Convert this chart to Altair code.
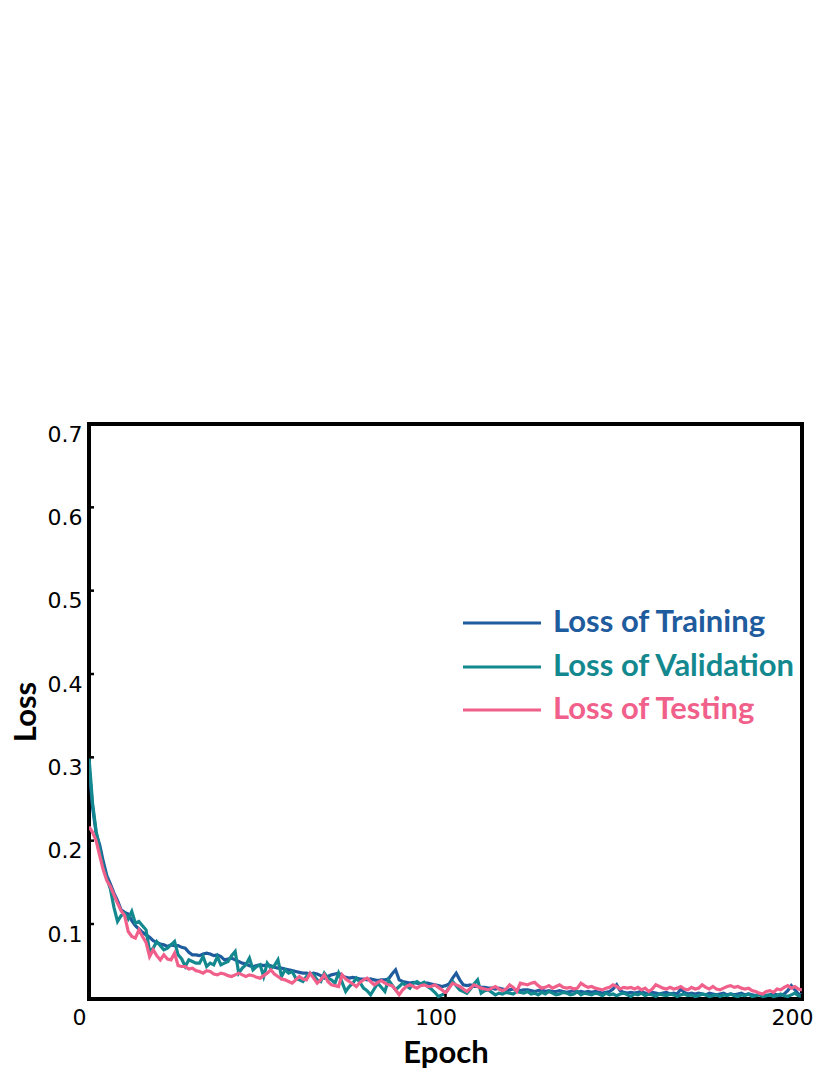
import altair as alt
import pandas as pd

# ---- data ----
epochs = list(range(0, 201))

loss_training = [
    0.290, 0.240, 0.209, 0.195, 0.175, 0.158, 0.148, 0.137, 0.128, 0.117,
    0.114, 0.112, 0.104, 0.098, 0.094, 0.090, 0.087, 0.084, 0.080, 0.078,
    0.076, 0.075, 0.073, 0.075, 0.074, 0.074, 0.072, 0.071, 0.066, 0.063,
    0.063, 0.062, 0.064, 0.065, 0.064, 0.062, 0.063, 0.061, 0.057, 0.058,
    0.059, 0.057, 0.055, 0.053, 0.052, 0.050, 0.049, 0.050, 0.051, 0.050,
    0.051, 0.050, 0.048, 0.047, 0.047, 0.046, 0.045, 0.044, 0.043, 0.042,
    0.041, 0.041, 0.040, 0.041, 0.040, 0.038, 0.035, 0.037, 0.039, 0.040,
    0.041, 0.038, 0.036, 0.035, 0.036, 0.035, 0.034, 0.034, 0.033, 0.034,
    0.033, 0.032, 0.033, 0.033, 0.034, 0.040, 0.045, 0.033, 0.031, 0.030,
    0.029, 0.030, 0.029, 0.028, 0.029, 0.029, 0.028, 0.027, 0.026, 0.025,
    0.026, 0.028, 0.035, 0.041, 0.033, 0.027, 0.026, 0.027, 0.025, 0.025,
    0.024, 0.024, 0.023, 0.023, 0.022, 0.023, 0.022, 0.021, 0.021, 0.022,
    0.021, 0.020, 0.021, 0.021, 0.020, 0.019, 0.020, 0.021, 0.019, 0.020,
    0.019, 0.019, 0.020, 0.019, 0.018, 0.019, 0.020, 0.018, 0.019, 0.018,
    0.019, 0.018, 0.019, 0.018, 0.017, 0.018, 0.019, 0.022, 0.027, 0.020,
    0.018, 0.017, 0.018, 0.017, 0.018, 0.019, 0.017, 0.016, 0.018, 0.017,
    0.016, 0.017, 0.018, 0.016, 0.017, 0.016, 0.022, 0.018, 0.016, 0.017,
    0.016, 0.017, 0.016, 0.015, 0.017, 0.016, 0.015, 0.016, 0.017, 0.015,
    0.016, 0.015, 0.016, 0.017, 0.015, 0.016, 0.015, 0.014, 0.016, 0.015,
    0.014, 0.015, 0.016, 0.015, 0.014, 0.016, 0.020, 0.026, 0.021, 0.016,
    0.015,
]

loss_validation = [
    0.300, 0.245, 0.211, 0.190, 0.168, 0.155, 0.142, 0.120, 0.103, 0.110,
    0.113, 0.106, 0.115, 0.101, 0.103, 0.098, 0.093, 0.067, 0.071, 0.079,
    0.074, 0.069, 0.071, 0.075, 0.079, 0.063, 0.058, 0.049, 0.057, 0.055,
    0.053, 0.053, 0.061, 0.049, 0.053, 0.051, 0.061, 0.051, 0.053, 0.055,
    0.062, 0.067, 0.041, 0.047, 0.051, 0.059, 0.045, 0.049, 0.051, 0.037,
    0.053, 0.047, 0.050, 0.057, 0.037, 0.045, 0.041, 0.043, 0.035, 0.033,
    0.031, 0.037, 0.041, 0.039, 0.033, 0.031, 0.041, 0.035, 0.033, 0.029,
    0.041, 0.030, 0.019, 0.025, 0.029, 0.035, 0.030, 0.023, 0.020, 0.015,
    0.022, 0.029, 0.024, 0.019, 0.033, 0.027, 0.021, 0.025, 0.029, 0.026,
    0.023, 0.029, 0.031, 0.028, 0.030, 0.025, 0.022, 0.018, 0.013, 0.015,
    0.017, 0.024, 0.031, 0.026, 0.021, 0.019, 0.017, 0.022, 0.028, 0.033,
    0.017, 0.020, 0.021, 0.018, 0.015, 0.017, 0.016, 0.018, 0.017, 0.016,
    0.019, 0.018, 0.017, 0.019, 0.016, 0.017, 0.015, 0.018, 0.016, 0.019,
    0.017, 0.015, 0.016, 0.018, 0.017, 0.015, 0.016, 0.019, 0.015, 0.017,
    0.016, 0.015, 0.017, 0.016, 0.014, 0.017, 0.015, 0.016, 0.014, 0.016,
    0.017, 0.015, 0.013, 0.016, 0.015, 0.017, 0.014, 0.016, 0.015, 0.013,
    0.016, 0.015, 0.014, 0.016, 0.015, 0.013, 0.015, 0.016, 0.014, 0.015,
    0.013, 0.014, 0.016, 0.015, 0.013, 0.014, 0.015, 0.013, 0.015, 0.014,
    0.016, 0.014, 0.013, 0.015, 0.014, 0.016, 0.013, 0.014, 0.015, 0.013,
    0.014, 0.015, 0.013, 0.014, 0.016, 0.014, 0.013, 0.015, 0.017, 0.014,
    0.013,
]

loss_testing = [
    0.217, 0.210, 0.200, 0.182, 0.165, 0.152, 0.145, 0.135, 0.125, 0.116,
    0.110, 0.091, 0.085, 0.083, 0.093, 0.085, 0.078, 0.061, 0.069, 0.062,
    0.057, 0.063, 0.058, 0.057, 0.065, 0.050, 0.049, 0.049, 0.046, 0.047,
    0.044, 0.043, 0.041, 0.044, 0.043, 0.040, 0.039, 0.041, 0.040, 0.038,
    0.037, 0.039, 0.041, 0.039, 0.037, 0.039, 0.038, 0.036, 0.035, 0.038,
    0.041, 0.045, 0.040, 0.037, 0.034, 0.033, 0.031, 0.029, 0.033, 0.037,
    0.034, 0.033, 0.041, 0.035, 0.029, 0.033, 0.039, 0.031, 0.027, 0.026,
    0.025, 0.039, 0.034, 0.031, 0.028, 0.025, 0.030, 0.033, 0.035, 0.031,
    0.027, 0.030, 0.032, 0.029, 0.027, 0.026, 0.021, 0.015, 0.021, 0.025,
    0.027, 0.025, 0.023, 0.026, 0.027, 0.025, 0.025, 0.027, 0.024, 0.021,
    0.017, 0.023, 0.029, 0.027, 0.025, 0.022, 0.019, 0.023, 0.027, 0.025,
    0.023, 0.022, 0.021, 0.023, 0.025, 0.022, 0.020, 0.022, 0.027, 0.024,
    0.019, 0.029, 0.028, 0.027, 0.029, 0.030, 0.026, 0.023, 0.024, 0.026,
    0.023, 0.025, 0.027, 0.024, 0.023, 0.024, 0.022, 0.023, 0.029, 0.026,
    0.024, 0.025, 0.023, 0.022, 0.021, 0.023, 0.024, 0.027, 0.025, 0.022,
    0.024, 0.023, 0.024, 0.022, 0.024, 0.021, 0.023, 0.019, 0.022, 0.027,
    0.025, 0.023, 0.022, 0.024, 0.022, 0.023, 0.025, 0.022, 0.021, 0.024,
    0.022, 0.023, 0.027, 0.024, 0.022, 0.025, 0.022, 0.021, 0.023, 0.025,
    0.026, 0.024, 0.025, 0.023, 0.022, 0.023, 0.020, 0.019, 0.017, 0.016,
    0.019, 0.020, 0.018, 0.022, 0.021, 0.024, 0.026, 0.023, 0.025, 0.022,
    0.021,
]

series_names = ["Loss of Training", "Loss of Validation", "Loss of Testing"]
series_colors = ["#1f5c9e", "#13898f", "#f0608a"]
y_ticks = [0.1, 0.2, 0.3, 0.4, 0.5, 0.6, 0.7]
x_ticks = [0, 100, 200]

# ---- tables ----
rows = []
for name, vals in zip(series_names, [loss_training, loss_validation, loss_testing]):
    for e, v in zip(epochs, vals):
        rows.append({"Epoch": e, "Loss": v, "Series": name})
df = pd.DataFrame(rows)

W, H = 713, 575
LABEL_FONT = "DejaVu Sans"
TITLE_FONT = "Lato"

x_scale = alt.Scale(domain=[0, 200], nice=False, zero=False)
y_scale = alt.Scale(domain=[0.01, 0.7], nice=False, zero=False)
color_scale = alt.Scale(domain=series_names, range=series_colors)

lines = alt.Chart(df).mark_line(strokeWidth=3.2, clip=True).encode(
    x=alt.X("Epoch:Q", scale=x_scale,
            axis=alt.Axis(values=x_ticks, format="d", ticks=False, domain=False, grid=False,
                          labelFont=LABEL_FONT, labelFontSize=22, labelColor="black",
                          labelPadding=8, labelOffset=-10, labelFlush=False,
                          title="Epoch", titleFont=TITLE_FONT, titleFontSize=31,
                          titleFontWeight="bold", titleColor="black",
                          titleY=54, titleBaseline="middle")),
    y=alt.Y("Loss:Q", scale=y_scale,
            axis=alt.Axis(values=y_ticks, format=".1f", ticks=False, domain=False, grid=False,
                          labelFont=LABEL_FONT, labelFontSize=22, labelColor="black",
                          labelPadding=7, labelOffset=10, labelFlush=False,
                          title="Loss", titleFont=TITLE_FONT, titleFontSize=31,
                          titleFontWeight="bold", titleColor="black",
                          titleAngle=-90, titleX=-63, titleY=H / 2,
                          titleBaseline="middle", titleAlign="center")),
    color=alt.Color("Series:N", scale=color_scale, legend=None),
    detail="Series:N",
)

# small inward tick marks
ytick_df = pd.DataFrame({"Loss": y_ticks})
yticks = alt.Chart(ytick_df).mark_rule(color="black", strokeWidth=2.5).encode(
    y=alt.Y("Loss:Q", scale=y_scale), x=alt.value(0), x2=alt.value(5)
)
xtick_df = pd.DataFrame({"Epoch": x_ticks})
xticks = alt.Chart(xtick_df).mark_rule(color="black", strokeWidth=2.5).encode(
    x=alt.X("Epoch:Q", scale=x_scale), y=alt.value(H), y2=alt.value(H - 5)
)

# legend drawn inside the plot
legend_layers = []
legend_rows_y = [199, 243, 286]
for name, col, yy in zip(series_names, series_colors, legend_rows_y):
    ldf = pd.DataFrame({"Series": [name]})
    legend_layers.append(
        alt.Chart(ldf).mark_rule(color=col, strokeWidth=3).encode(
            x=alt.value(374), x2=alt.value(452), y=alt.value(yy)
        )
    )
    legend_layers.append(
        alt.Chart(ldf).mark_text(color=col, font=TITLE_FONT, fontSize=31, fontWeight="bold",
                                 align="left", baseline="middle").encode(
            x=alt.value(464), y=alt.value(yy), text="Series:N"
        )
    )

chart = alt.layer(lines, yticks, xticks, *legend_layers).properties(
    width=W, height=H,
    background="white",
    autosize=alt.AutoSizeParams(type="none"),
    padding={"left": 81, "top": 416, "right": 20, "bottom": 70},
).configure_view(
    stroke="black", strokeWidth=4
)

chart.save("out.html", embed_options={"renderer": "svg", "actions": False})
